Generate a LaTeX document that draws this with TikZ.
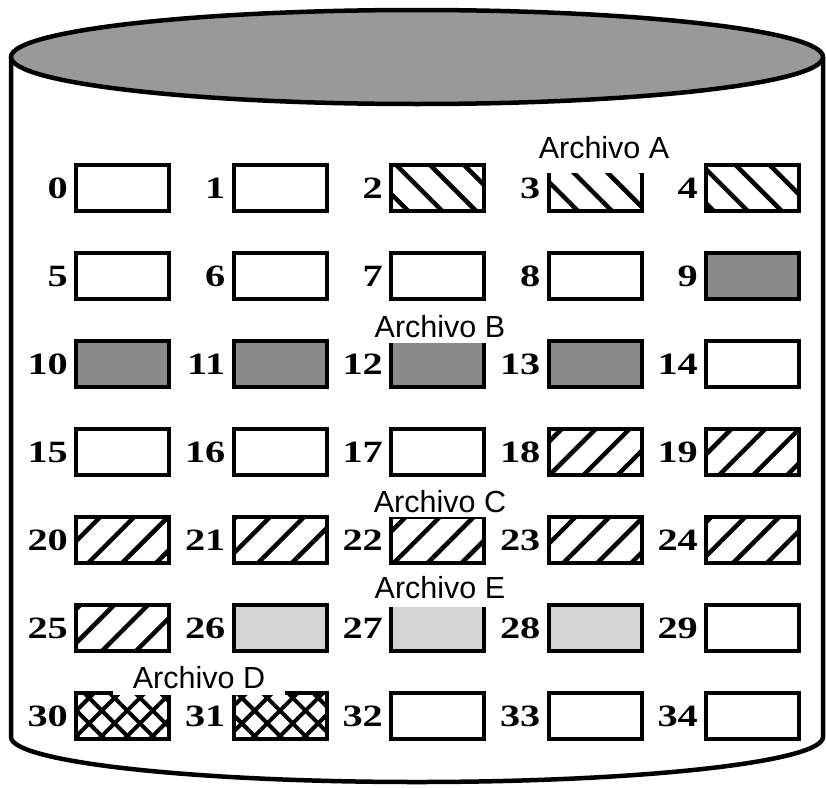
\documentclass[tikz,border=0pt]{standalone}
\usepackage{fontspec}
\usepackage{tikz}
\usetikzlibrary{patterns.meta}
\newfontfamily\lblfont{Liberation Sans}
\newfontfamily\numfont{Liberation Serif}[UprightFont=* Bold, FakeStretch=1.3]
\definecolor{topgray}{HTML}{999999}
\definecolor{darkblk}{HTML}{8A8A8A}
\definecolor{lightblk}{HTML}{D4D4D4}

\begin{document}
\begin{tikzpicture}[x=1pt,y=-1pt,
        blk/.style={draw, line width=4pt, inner sep=0pt, anchor=north west,
                        minimum width=93pt, minimum height=46pt},
        num/.style={anchor=east, inner sep=0pt,
                        font=\numfont\fontsize{31}{31}\selectfont},
        lbl/.style={fill=white, anchor=base, inner ysep=2pt,
                        font=\lblfont\fontsize{30.5}{30.5}\selectfont},
        libre/.style={fill=white},
        arcA/.style={pattern={Lines[angle=-45,distance=24pt,line width=4.5pt]}},
        arcB/.style={fill=darkblk},
        arcC/.style={pattern={Lines[angle=45,distance=24pt,line width=4.5pt]}},
        arcD/.style={preaction={pattern={Lines[angle=45,distance=18pt,line width=4pt]}},
                        pattern={Lines[angle=-45,distance=18pt,line width=4pt]}},
        arcE/.style={fill=lightblk}]
    \useasboundingbox (0,0) rectangle (826,787);

    % disco
    \draw[line width=4.5pt] (11,57) -- (11,737)
        arc[start angle=180, end angle=0, x radius=406, y radius=45]
        -- (823,57);
    \draw[line width=4.5pt, fill=topgray] (417,57) ellipse [x radius=406, y radius=47];

    % bloques
    \foreach \i/\f [evaluate=\i as \bx using {74+157.5*mod(\i,5)},
                    evaluate=\i as \by using {163+88*int(\i/5)}]
        in {0/libre,1/libre,2/arcA,3/arcA,4/arcA,
            5/libre,6/libre,7/libre,8/libre,9/arcB,
            10/arcB,11/arcB,12/arcB,13/arcB,14/libre,
            15/libre,16/libre,17/libre,18/arcC,19/arcC,
            20/arcC,21/arcC,22/arcC,23/arcC,24/arcC,
            25/arcC,26/arcE,27/arcE,28/arcE,29/libre,
            30/arcD,31/arcD,32/libre,33/libre,34/libre} {
        \node[blk, \f] (b\i) at (\bx,\by) {};
        \node[num] (n\i) at ([xshift=-6pt]b\i.west) {\i};
    }

    % archivos
    \node[lbl, inner xsep=8pt, text depth=13pt] (la) at (604,158) {Archivo A};
    \node[lbl, inner xsep=6pt, text depth=4pt] (lb) at (440,337) {Archivo B};
    \node[lbl, inner xsep=6pt, text depth=3pt] (lc) at (440,512) {Archivo C};
    \node[lbl, inner xsep=6pt, text depth=7pt] (le) at (440,598) {Archivo E};
    \node[lbl, inner xsep=20pt, text depth=5pt] (ld) at (199,688) {Archivo D};
\end{tikzpicture}
\end{document}
